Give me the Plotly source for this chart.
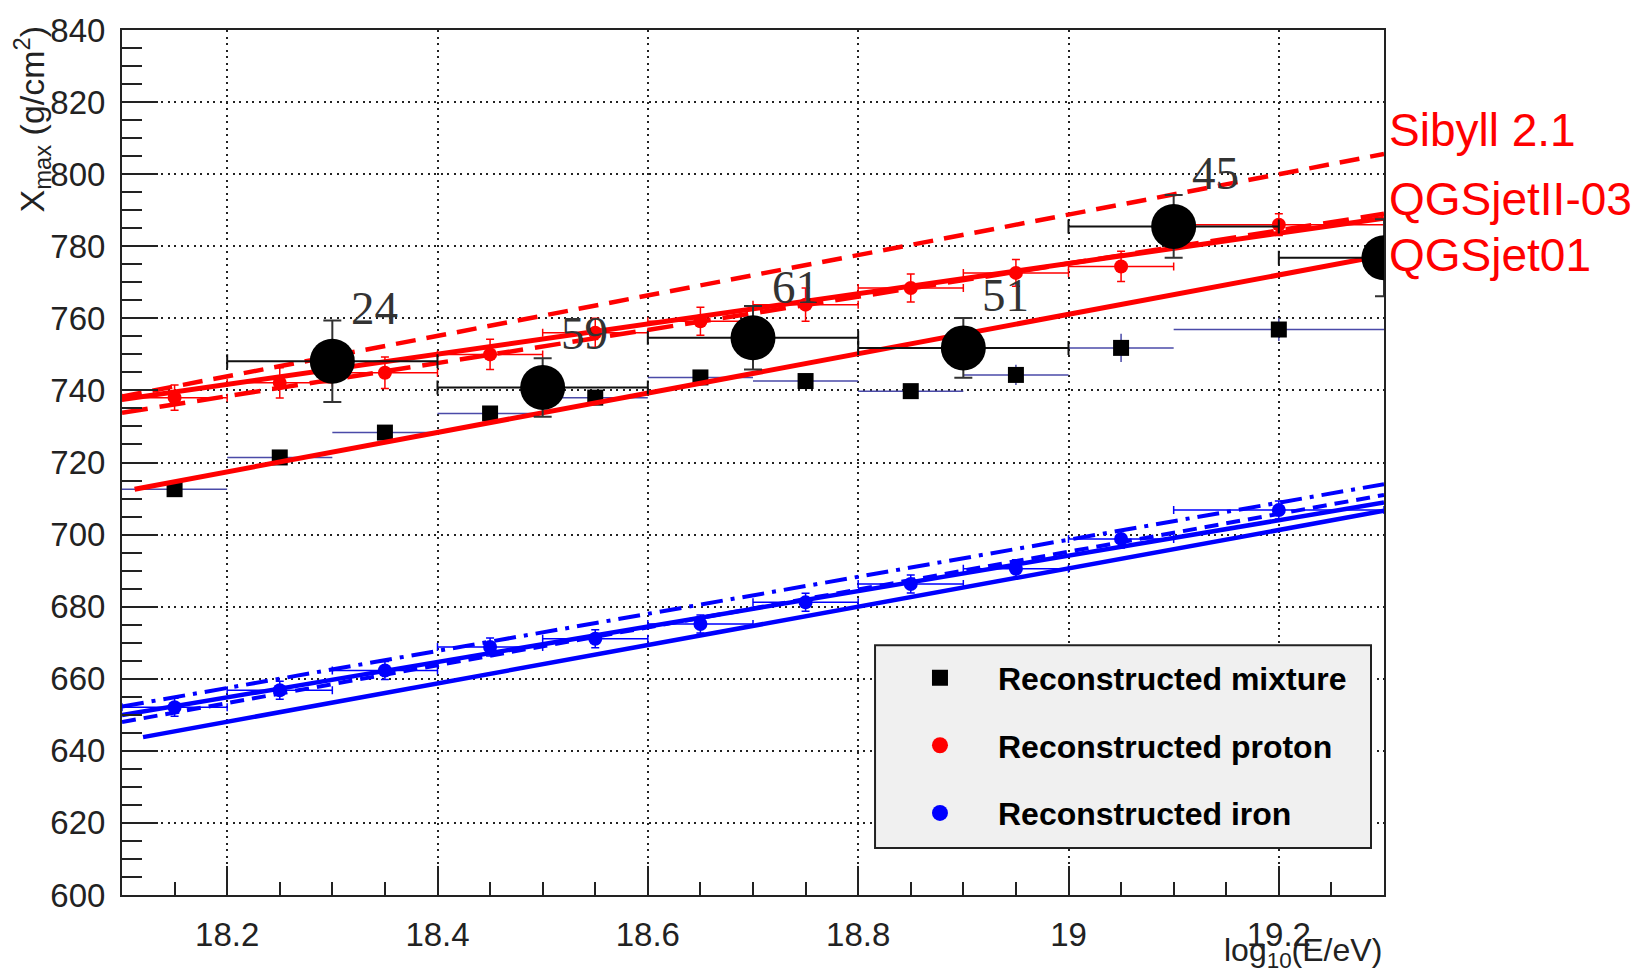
import plotly.graph_objects as go

# ---------------- data ----------------
energy = [18.15, 18.25, 18.35, 18.45, 18.55, 18.65, 18.75, 18.85, 18.95, 19.05, 19.2]
bin_half = [0.05, 0.05, 0.05, 0.05, 0.05, 0.05, 0.05, 0.05, 0.05, 0.05, 0.1]

mixture_xmax = [712.6, 721.4, 728.3, 733.6, 738.0, 743.6, 742.6, 739.8, 744.3, 751.8, 756.9]
mixture_err = [1.5, 1.5, 1.5, 1.5, 1.5, 1.5, 2.0, 2.0, 2.8, 3.9, 3.2]

proton_xmax = [738.0, 742.1, 744.9, 750.0, 756.0, 759.2, 763.8, 768.4, 772.6, 774.4, 786.0]
proton_err = [3.5, 4.2, 4.4, 4.2, 4.0, 3.9, 4.6, 3.9, 3.7, 4.2, 3.0]

iron_xmax = [652.1, 656.8, 662.3, 668.8, 671.1, 675.2, 681.2, 686.3, 690.5, 698.8, 706.8]
iron_err = [2.5, 2.5, 2.5, 2.5, 2.5, 2.5, 2.5, 2.5, 2.5, 2.5, 2.5]

data_energy = [18.3, 18.5, 18.7, 18.9, 19.1, 19.3]
data_half = [0.1, 0.1, 0.1, 0.1, 0.1, 0.1]
data_xmax = [748.1, 740.8, 754.6, 751.8, 785.5, 776.8]
data_err = [11.3, 8.1, 8.8, 8.3, 8.7, 10.7]
data_counts = ["24", "59", "61", "51", "45"]
count_label_y = [763.0, 756.0, 768.8, 766.4, 800.2]

line_x = [18.1, 19.3]
sibyll_proton = [738.3, 805.6]
qgsjet2_proton = [733.8, 789.0]
proton_fit = [737.5, 787.8]
qgsjet01_x = [18.112, 19.3]
qgsjet01_proton = [712.6, 777.5]
iron_dashdot = [652.3, 714.0]
iron_fit = [649.9, 708.9]
iron_dash = [648.0, 711.0]
iron_low_x = [18.12, 19.3]
iron_low = [643.8, 706.6]

model_names = ["Sibyll 2.1", "QGSjetII-03", "QGSjet01"]
model_label_y = [812.3, 793.1, 777.5]

legend_names = ["Reconstructed mixture", "Reconstructed proton", "Reconstructed iron"]

x_range = [18.1, 19.3]
y_range = [600, 840]

RED = "#ff0000"
BLUE = "#0000ff"
MIXBAR = "#4a4aa8"

fig = go.Figure()

# mixture (under lines)
fig.add_trace(go.Scatter(
    x=energy, y=mixture_xmax, mode="markers", showlegend=False,
    marker=dict(symbol="square", size=16, color="black"),
    error_x=dict(type="data", array=bin_half, color=MIXBAR, thickness=1.5, width=0),
    error_y=dict(type="data", array=mixture_err, color=MIXBAR, thickness=1.5, width=0),
))

# model lines
def add_line(xs, ys, color, width, dash):
    fig.add_trace(go.Scatter(x=xs, y=ys, mode="lines", showlegend=False,
                             line=dict(color=color, width=width, dash=dash),
                             hoverinfo="skip"))

add_line(qgsjet01_x, qgsjet01_proton, RED, 5, "solid")
add_line(line_x, sibyll_proton, RED, 4.5, "20px,11px")
add_line(line_x, qgsjet2_proton, RED, 4.5, "26px,12px")
add_line(line_x, proton_fit, RED, 5, "solid")

add_line(iron_low_x, iron_low, BLUE, 4.5, "solid")
add_line(line_x, iron_dash, BLUE, 4, "14px,8px")
add_line(line_x, iron_dashdot, BLUE, 4, "22px,8px,4px,8px")
add_line(line_x, iron_fit, BLUE, 4.5, "solid")

# proton and iron reconstructed
fig.add_trace(go.Scatter(
    x=energy, y=proton_xmax, mode="markers", showlegend=False,
    marker=dict(symbol="circle", size=14, color=RED),
    error_x=dict(type="data", array=bin_half, color=RED, thickness=1.5, width=4),
    error_y=dict(type="data", array=proton_err, color=RED, thickness=1.5, width=4),
))
fig.add_trace(go.Scatter(
    x=energy, y=iron_xmax, mode="markers", showlegend=False,
    marker=dict(symbol="circle", size=14, color=BLUE),
    error_x=dict(type="data", array=bin_half, color=BLUE, thickness=1.5, width=4),
    error_y=dict(type="data", array=iron_err, color=BLUE, thickness=1.5, width=4),
))

# measured data (big black circles)
fig.add_trace(go.Scatter(
    x=data_energy, y=data_xmax, mode="markers", showlegend=False,
    marker=dict(symbol="circle", size=45, color="black"),
    error_x=dict(type="data", array=data_half, color="#111111", thickness=2, width=7),
    error_y=dict(type="data", array=data_err, color="#333333", thickness=2, width=9),
))

# legend-only traces
legend_styles = [("square", "black"), ("circle", RED), ("circle", BLUE)]
for i, (nm, (sym, col)) in enumerate(zip(legend_names, legend_styles)):
    fig.add_trace(go.Scatter(x=[None], y=[None], mode="markers", name=nm,
                             legendgroup="g%d" % i,
                             marker=dict(symbol=sym, size=16, color=col)))

annotations = []
for xe, yl, txt in zip(data_energy, count_label_y, data_counts):
    annotations.append(dict(x=xe + 0.04, y=yl, xref="x", yref="y", text=txt,
                            showarrow=False, xanchor="center", yanchor="middle",
                            font=dict(family="Liberation Serif", size=47, color="#333333")))

for name, yl in zip(model_names, model_label_y):
    annotations.append(dict(x=1.0, xshift=3, y=yl, xref="paper", yref="y", text=name,
                            showarrow=False, xanchor="left", yanchor="middle",
                            font=dict(family="Liberation Sans", size=46, color=RED)))

annotations.append(dict(x=-0.0721, y=1.0, yshift=6, xref="paper", yref="paper",
                        text="X<sub>max</sub> (g/cm<sup>2</sup>)", textangle=-90,
                        showarrow=False, xanchor="center", yanchor="top",
                        font=dict(family="Liberation Sans", size=34, color="#222222")))
annotations.append(dict(x=1.0, y=-0.040, xref="paper", yref="paper",
                        text="log<sub>10</sub>(E/eV)",
                        showarrow=False, xanchor="right", yanchor="top",
                        font=dict(family="Liberation Sans", size=32, color="#222222")))

axis_common = dict(showline=True, linecolor="#222222", linewidth=2, mirror=True,
                   ticks="inside", tickwidth=2, tickcolor="#222222",
                   showgrid=True, gridcolor="#222222", gridwidth=1.5, griddash="2px,4.5px",
                   zeroline=False,
                   tickfont=dict(family="Liberation Sans", size=33, color="#222222"))

# legend box
shapes = [dict(type="rect", xref="paper", yref="paper",
               x0=0.5967, x1=0.9897, y0=0.0544, y1=0.2886,
               fillcolor="#f0f0f0", line=dict(color="#222222", width=2), layer="above")]

fig.update_layout(
    width=1646, height=977,
    margin=dict(l=122, r=262, t=28, b=82),
    paper_bgcolor="white", plot_bgcolor="white",
    xaxis=dict(range=x_range, tick0=18.2, dtick=0.2, ticklen=29, ticklabelstandoff=9,
               minor=dict(dtick=0.05, ticks="inside", ticklen=13, tickwidth=2,
                          tickcolor="#222222", showgrid=False),
               **axis_common),
    yaxis=dict(range=y_range, tick0=600, dtick=20, ticklen=36, ticklabelstandoff=8,
               minor=dict(dtick=5, ticks="inside", ticklen=20, tickwidth=2,
                          tickcolor="#222222", showgrid=False),
               **axis_common),
    legend=dict(x=0.6022, y=0.2828, xanchor="left", yanchor="top",
                bgcolor="rgba(0,0,0,0)", borderwidth=0,
                font=dict(family="Liberation Sans", size=32, color="black", weight="bold"),
                itemwidth=106, tracegroupgap=23, itemsizing="trace"),
    shapes=shapes,
    annotations=annotations,
    showlegend=True,
)

fig.write_html("out.html")
